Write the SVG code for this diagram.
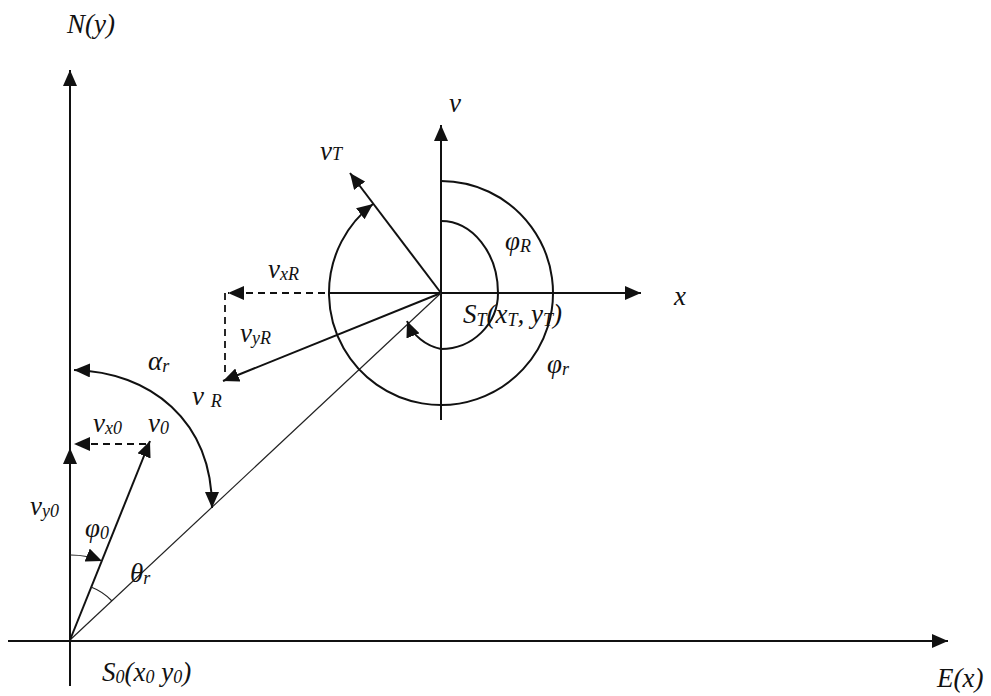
<svg xmlns="http://www.w3.org/2000/svg" width="991" height="696" viewBox="0 0 991 696">
<style>
.ln{stroke:#111;stroke-width:2;fill:none}
.th{stroke:#222;stroke-width:1.2;fill:none}
.ds{stroke:#111;stroke-width:1.8;fill:none;stroke-dasharray:7,5}
.t{font-family:"Liberation Serif","Times New Roman",serif;font-style:italic;font-size:27px;fill:#111}
.s{font-size:18px}
</style>
<defs>
<marker id="ah" markerUnits="userSpaceOnUse" markerWidth="18" markerHeight="14" refX="16" refY="7" orient="auto">
<path d="M0,0 L16,7 L0,14 z" fill="#111"/>
</marker>
<marker id="ahs" markerUnits="userSpaceOnUse" markerWidth="18" markerHeight="14" refX="16" refY="7" orient="auto-start-reverse">
<path d="M0,0 L16,7 L0,14 z" fill="#111"/>
</marker>
</defs>
<rect width="991" height="696" fill="#fff"/>
<g id="connectors">
<line id="axis-y" class="ln" x1="70" y1="686" x2="70" y2="70" marker-end="url(#ah)"/>
<line id="axis-x" class="ln" x1="8" y1="641" x2="948" y2="641" marker-end="url(#ah)"/>
<line id="local-v" class="ln" x1="441" y1="420" x2="441" y2="125" marker-end="url(#ah)"/>
<line id="local-x" class="ln" x1="337" y1="293" x2="641" y2="293" marker-end="url(#ah)"/>
<line id="vxR" class="ds" x1="337" y1="293" x2="228" y2="293" marker-end="url(#ah)"/>
<line id="vyR" class="ds" x1="225" y1="293" x2="225" y2="372"/>
<line id="vR" class="ln" x1="441" y1="293" x2="223" y2="381" marker-end="url(#ah)"/>
<line id="vT" class="ln" x1="441" y1="293" x2="350" y2="173" marker-end="url(#ah)"/>
<line id="los" class="th" x1="70" y1="640" x2="441" y2="293"/>
<path id="phi-r" class="ln" d="M441,181 A112,112 0 1 1 373,204" marker-end="url(#ah)"/>
<path id="phi-R" class="ln" d="M441,221 A57,72 0 0 1 498,293 A57,56 0 0 1 441,349 A46,46 0 0 1 407,321" marker-end="url(#ah)"/>
<path id="alpha-r" class="ln" d="M74,370 C150,372 212,420 212,508" marker-start="url(#ahs)" marker-end="url(#ah)"/>
<line id="v0" class="ln" x1="70" y1="640" x2="150" y2="441" marker-end="url(#ah)"/>
<line id="vx0" class="ds" x1="146" y1="444" x2="74" y2="444" marker-end="url(#ah)"/>
<line id="vy0" class="ln" x1="70" y1="600" x2="70" y2="448" marker-end="url(#ah)"/>
<path id="phi-0" class="th" d="M70,555 A85,85 0 0 1 102,561" marker-end="url(#ah)"/>
<path id="theta-r" class="th" d="M91,587 A57,57 0 0 1 112,601"/>
</g>
<g id="labels">
<text id="lbl-N" class="t" x="67" y="33">N(y)</text>
<text id="lbl-E" class="t" x="937" y="687">E(x)</text>
<text id="lbl-v" class="t" x="449" y="112">v</text>
<text id="lbl-x" class="t" x="674" y="305">x</text>
<text id="lbl-vT" class="t" x="320" y="160">v<tspan class="s">T</tspan></text>
<text id="lbl-ST" class="t" x="463" y="323">S<tspan class="s" dy="3">T</tspan><tspan dy="-3">(x</tspan><tspan class="s" dy="3">T</tspan><tspan dy="-3">, y</tspan><tspan class="s" dy="3">T</tspan><tspan dy="-3">)</tspan></text>
<text id="lbl-phiR" class="t" x="505" y="250">φ<tspan class="s" dy="2">R</tspan></text>
<text id="lbl-phir" class="t" x="547" y="373">φ<tspan class="s" dy="2">r</tspan></text>
<text id="lbl-vxR" class="t" x="268" y="278">v<tspan class="s" dy="2">xR</tspan></text>
<text id="lbl-vyR" class="t" x="240" y="342">v<tspan class="s" dy="2">yR</tspan></text>
<text id="lbl-vR" class="t" x="192" y="405">v <tspan class="s" dy="2">R</tspan></text>
<text id="lbl-alpha" class="t" x="148" y="370">α<tspan class="s" dy="2">r</tspan></text>
<text id="lbl-vx0" class="t" x="93" y="432">v<tspan class="s" dy="2">x0</tspan></text>
<text id="lbl-v0" class="t" x="148" y="432">v<tspan class="s" dy="2">0</tspan></text>
<text id="lbl-vy0" class="t" x="30" y="515">v<tspan class="s" dy="2">y0</tspan></text>
<text id="lbl-phi0" class="t" x="85" y="537">φ<tspan class="s" dy="2">0</tspan></text>
<text id="lbl-theta" class="t" x="130" y="582">θ<tspan class="s" dy="2">r</tspan></text>
<text id="lbl-S0" class="t" x="102" y="681">S<tspan class="s" dy="2">0</tspan><tspan dy="-2">(x</tspan><tspan class="s" dy="2">0</tspan><tspan dy="-2"> y</tspan><tspan class="s" dy="2">0</tspan><tspan dy="-2">)</tspan></text>
</g>
</svg>
